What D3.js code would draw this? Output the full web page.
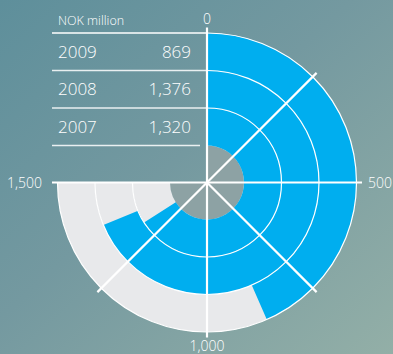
<!DOCTYPE html>
<html>
<head>
<meta charset="utf-8">
<script src="https://cdn.jsdelivr.net/npm/d3@7"></script>
<style>
  html, body { margin: 0; padding: 0; }
  body { width: 393px; height: 354px; overflow: hidden; }
  svg { display: block; font-family: "Open Sans", "Lato", sans-serif; }
</style>
</head>
<body>
<svg id="chart" width="393" height="354"></svg>
<script>
// Yearly figures, NOK million
const years = ["2009", "2008", "2007"];
const values = [869, 1376, 1320];
const valueLabels = ["869", "1,376", "1,320"];
// Scale ticks
const tickValues = [0, 500, 1000, 1500];
const tickLabels = ["0", "500", "1,000", "1,500"];
const gridValues = [0, 250, 500, 750, 1000, 1250, 1500];

const W = 393, H = 354;
const cx = 207, cy = 182.5;
const rOuter = 149.5, rInner = 37;
const spokeLen = 155;

const svg = d3.select("#chart");

// Background wash
const defs = svg.append("defs");
const bg = defs.append("linearGradient").attr("id", "bg")
  .attr("x1", "0").attr("y1", "0").attr("x2", "1").attr("y2", "1");
bg.append("stop").attr("offset", "0").attr("stop-color", "#5e8f9b");
bg.append("stop").attr("offset", "0.45").attr("stop-color", "#7499a0");
bg.append("stop").attr("offset", "1").attr("stop-color", "#93afa7");
svg.append("rect").attr("width", W).attr("height", H).attr("fill", "url(#bg)");

const angle = d3.scaleLinear().domain([0, 1500]).range([0, 1.5 * Math.PI]);
const band = d3.scaleBand().domain(years).range([rOuter, rInner]).paddingInner(0);

const g = svg.append("g").attr("transform", `translate(${cx},${cy})`);

const arc = d3.arc();

// Centre disc over the scale's sweep
g.append("path")
  .attr("fill", "#8da2a4")
  .attr("d", arc({ innerRadius: 0, outerRadius: rInner, startAngle: 0, endAngle: angle(1500) }));

// Full-scale tracks
g.selectAll("path.track").data(years).join("path")
  .attr("class", "track")
  .attr("fill", "#e8e9eb")
  .attr("d", y => arc({
    innerRadius: band(y),
    outerRadius: band(y) + band.bandwidth(),
    startAngle: 0, endAngle: angle(1500)
  }));

// Value bars
g.selectAll("path.bar").data(years).join("path")
  .attr("class", "bar")
  .attr("fill", "#00aeef")
  .attr("d", (y, i) => arc({
    innerRadius: band(y),
    outerRadius: band(y) + band.bandwidth(),
    startAngle: 0, endAngle: angle(values[i])
  }));

// Ring separators
const ringRadii = years.map(y => band(y) + band.bandwidth());
g.selectAll("path.ring").data(ringRadii).join("path")
  .attr("class", "ring")
  .attr("fill", "none")
  .attr("stroke", "#ffffff")
  .attr("stroke-width", 1.2)
  .attr("d", r => d3.arc()({ innerRadius: r, outerRadius: r, startAngle: 0, endAngle: angle(1500) }));

// Spokes
g.selectAll("line.spoke").data(gridValues).join("line")
  .attr("class", "spoke")
  .attr("x1", 0).attr("y1", 0)
  .attr("x2", v => spokeLen * Math.sin(angle(v)))
  .attr("y2", v => -spokeLen * Math.cos(angle(v)))
  .attr("stroke", "#ffffff")
  .attr("stroke-width", 2.2)
  .attr("stroke-linecap", "butt");

// Scale labels
const labelPos = [
  { dx: 0, dy: -158.5, anchor: "middle" },
  { dx: 161, dy: 5, anchor: "start" },
  { dx: 0, dy: 168.5, anchor: "middle" },
  { dx: -165, dy: 5, anchor: "end" }
];
g.selectAll("text.tick").data(tickValues).join("text")
  .attr("class", "tick")
  .attr("x", (v, i) => labelPos[i].dx)
  .attr("y", (v, i) => labelPos[i].dy)
  .attr("text-anchor", (v, i) => labelPos[i].anchor)
  .attr("fill", "#ffffff")
  .attr("font-size", 14)
  .attr("font-weight", 300)
  .text((v, i) => tickLabels[i]);

// Value table
const tbl = svg.append("g");
const tableX = 52;
tbl.append("text")
  .attr("x", 58).attr("y", cy - rOuter - 8)
  .attr("fill", "#ffffff").attr("font-size", 12.5).attr("font-weight", 300)
  .text("NOK million");

const ruleYs = [rOuter].concat(years.map(y => band(y)));
tbl.selectAll("line.rule").data(ruleYs).join("line")
  .attr("class", "rule")
  .attr("x1", tableX)
  .attr("x2", (r, i) => i === ruleYs.length - 1 ? cx - 7 : cx)
  .attr("y1", r => cy - r).attr("y2", r => cy - r)
  .attr("stroke", "#ffffff").attr("stroke-opacity", (r, i) => i === 0 ? 1 : 0.85)
  .attr("stroke-width", 1.5);

tbl.selectAll("text.year").data(years).join("text")
  .attr("class", "year")
  .attr("x", 58)
  .attr("y", y => cy - (band(y) + band.bandwidth() / 2) + 6)
  .attr("fill", "#ffffff").attr("font-size", 17).attr("font-weight", 300)
  .text(y => y);

tbl.selectAll("text.val").data(years).join("text")
  .attr("class", "val")
  .attr("x", 191)
  .attr("text-anchor", "end")
  .attr("y", y => cy - (band(y) + band.bandwidth() / 2) + 6)
  .attr("fill", "#ffffff").attr("font-size", 17).attr("font-weight", 300)
  .text((y, i) => valueLabels[i]);
</script>
</body>
</html>
